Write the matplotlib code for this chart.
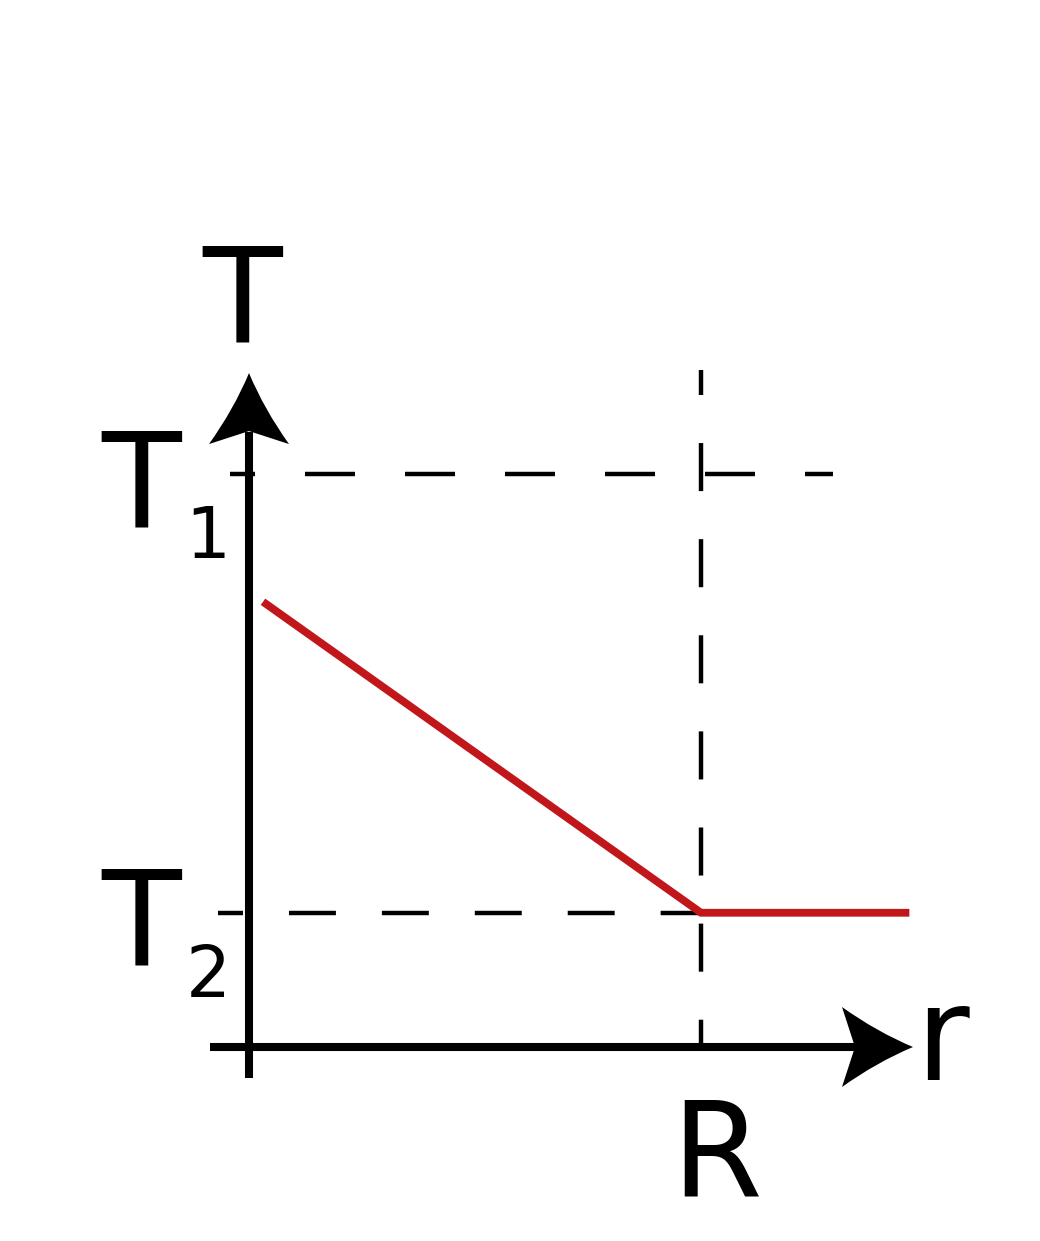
import matplotlib
matplotlib.use('Agg')
from matplotlib import pyplot as plt
from matplotlib.path import Path
from matplotlib.patches import PathPatch
import matplotlib.transforms as mtransforms

plt.rcParams['font.family'] = ['DejaVu Sans']
plt.rcParams['lines.scale_dashes'] = False

# schematic values (units: R = 1)
R = 1.0
T1 = 1.268
T2 = 0.297
r_profile = [0.031, R, 1.461]
T_profile = [0.985, T2, T2]

# axis extents
r_axis = [-0.086, 1.341]
T_axis = [-0.069, 1.361]
r_tip = 1.469
T_tip = 1.491

PX = 452.0  # pixels per unit

fig = plt.figure(figsize=(10.4, 12.41), dpi=100)
ax = fig.add_axes([0, 0, 1, 1])
ax.set_xlim(-249 / PX, 791 / PX)
ax.set_ylim(-194 / PX, 1047 / PX)
ax.axis('off')

# axes lines
ax.plot(r_axis, [0, 0], color='black', lw=5.8, solid_capstyle='butt')
ax.plot([0, 0], T_axis, color='black', lw=5.8, solid_capstyle='butt')

# arrow heads (shape in pixels, tip at origin, pointing right)
verts = [(0, 0), (-36, 15), (-71, 40), (-58, 0), (-71, -40), (-36, -15), (0, 0), (0, 0)]
codes = [Path.MOVETO, Path.CURVE3, Path.CURVE3, Path.LINETO, Path.LINETO,
         Path.CURVE3, Path.CURVE3, Path.CLOSEPOLY]
head = Path(verts, codes)
for x, y, ang in [(r_tip, 0, 0), (0, T_tip, 90)]:
    tr = mtransforms.Affine2D().rotate_deg(ang) + mtransforms.ScaledTranslation(x, y, ax.transData)
    ax.add_patch(PathPatch(head, transform=tr, facecolor='black', edgecolor='none'))

# dashed guides
ax.plot([-0.042, 1.292], [T1, T1], color='black', lw=3.2,
        linestyle=(18, (36, 36)), dash_capstyle='butt')
ax.plot([-0.069, R], [T2, T2], color='black', lw=3.2,
        linestyle=(15.8, (33.8, 33.1)), dash_capstyle='butt')
ax.plot([R, R], [1.498, 0], color='black', lw=3.2,
        linestyle=(16.6, (34.6, 34.6)), dash_capstyle='butt')

# temperature profile
ax.plot(r_profile, T_profile, color='#c1171b', lw=5.6,
        solid_capstyle='butt', solid_joinstyle='miter')

# labels
big = 94
small = 51
ax.text(-6.5 / PX, 705 / PX, 'T', fontsize=big, ha='center', va='baseline')
ax.text(-107.5 / PX, T1 - 53 / PX, 'T', fontsize=big, ha='center', va='baseline')
ax.text(-41 / PX, T1 - 84 / PX, '1', fontsize=small, ha='center', va='baseline')
ax.text(-107.5 / PX, T2 - 52 / PX, 'T', fontsize=big, ha='center', va='baseline')
ax.text(-41 / PX, T2 - 84 / PX, '2', fontsize=small, ha='center', va='baseline')
ax.text(R + 16 / PX, -149 / PX, 'R', fontsize=big, ha='center', va='baseline')
ax.text(693 / PX, -33 / PX, 'r', fontsize=big, ha='center', va='baseline')

fig.savefig('out.png', dpi=100)
